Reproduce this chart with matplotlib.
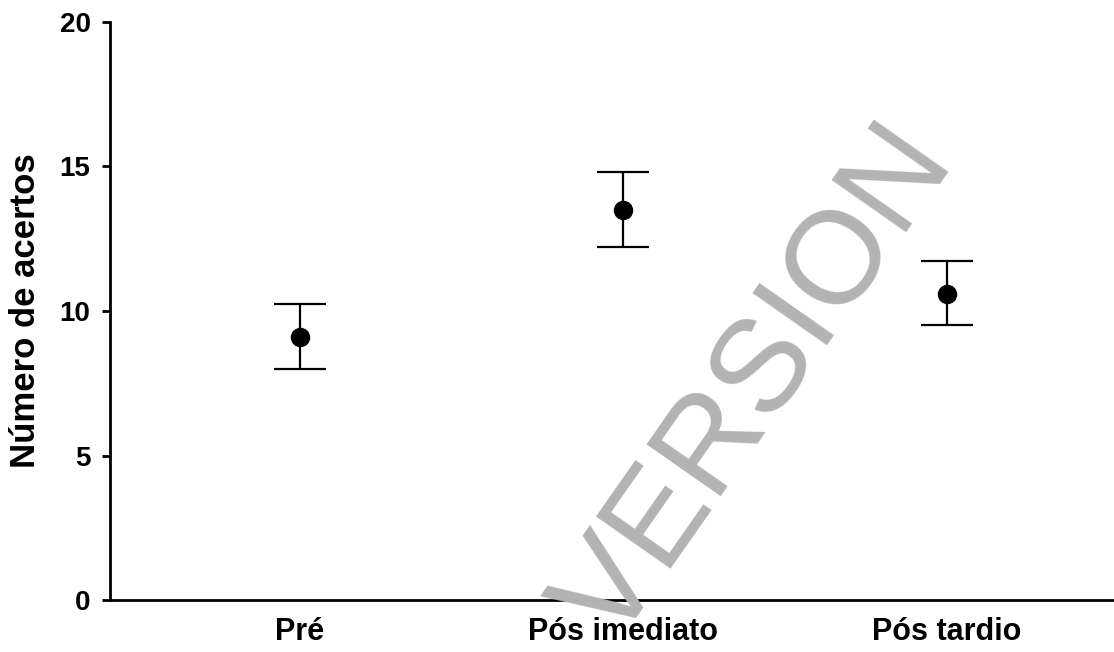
import matplotlib
matplotlib.use('Agg')
import matplotlib.pyplot as plt

# data
categories = ["Pré", "Pós imediato", "Pós tardio"]
means = [9.1, 13.5, 10.6]
upper = [10.25, 14.8, 11.72]
lower = [8.0, 12.22, 9.5]

plt.rcParams['font.family'] = ['Liberation Sans', 'DejaVu Sans']

W, H = 1114, 652
fig = plt.figure(figsize=(W / 100, H / 100), dpi=100)
ax = fig.add_axes([110 / W, 52 / H, 1 - 110 / W, 578 / H])

xs = list(range(len(categories)))
err_lo = [m - l for m, l in zip(means, lower)]
err_hi = [u - m for m, u in zip(means, upper)]
ax.errorbar(xs, means, yerr=[err_lo, err_hi], fmt='o', color='black',
            markersize=13, elinewidth=1.6, capsize=18.5, capthick=1.6)

ax.set_ylim(0, 20)
ax.set_xlim(-0.587, 2.516)
ax.set_yticks([0, 5, 10, 15, 20])
ax.set_xticks(xs)
ax.set_xticklabels(categories)
ax.set_ylabel("Número de acertos", fontsize=25, fontweight='bold')
ax.yaxis.set_label_coords(-0.068, 0.5)

for s in ['top', 'right']:
    ax.spines[s].set_visible(False)
for s in ['left', 'bottom']:
    ax.spines[s].set_linewidth(2)
ax.tick_params(axis='y', direction='out', length=6, width=2, labelsize=20, pad=8)
ax.tick_params(axis='x', length=0, labelsize=22, pad=12)
for lab in ax.get_xticklabels() + ax.get_yticklabels():
    lab.set_fontweight('bold')

# watermark (baseline start of "VERSION", rotated 55 deg)
fig.text(615 / W, 4 / H, "VERSION", ha='left', va='baseline', fontsize=95,
         color='#b3b3b3', rotation=55, rotation_mode='anchor', zorder=5)

plt.savefig('out.png', dpi=100)
plt.close()
